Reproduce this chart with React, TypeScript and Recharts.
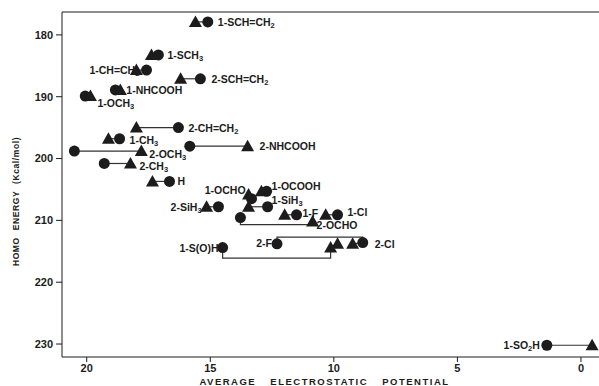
import React from "react";
import { ScatterChart, Scatter, XAxis, YAxis, ReferenceLine, Label } from "recharts";

// substituent names, "_n" marks a subscript digit
const compounds = [
  "1-SCH=CH_2", "1-SCH_3", "1-CH=CH_2", "2-SCH=CH_2", "1-NHCOOH", "1-OCH_3",
  "2-CH=CH_2", "1-CH_3", "2-NHCOOH", "2-OCH_3", "2-CH_3", "H", "2-SiH_3",
  "1-OCHO", "1-OCOOH", "1-SiH_3", "1-F", "1-Cl", "2-OCHO", "2-F", "2-Cl",
  "1-S(O)H", "1-SO_2H",
];
// filled circles
const circleX = [15.1, 17.1, 17.58, 15.4, 18.84, 20.06, 16.29, 18.67, 15.83, 20.5, 19.29, 16.65, 14.67, 13.33, 12.72, 12.68, 11.51, 9.85, 13.78, 12.3, 8.83, 14.5, 1.38];
const circleY = [177.9, 183.25, 185.7, 187.1, 188.9, 189.9, 195.0, 196.8, 198.0, 198.8, 200.8, 203.7, 207.8, 206.5, 205.3, 207.8, 209.1, 209.1, 209.55, 213.8, 213.6, 214.4, 230.2];
// filled triangles
const triX = [15.6, 17.38, 17.99, 16.2, 18.64, 19.85, 17.99, 19.12, 13.49, 17.79, 18.23, 17.34, 15.15, 13.45, 12.93, 13.45, 11.99, 10.33, 10.86, 9.85, 9.24, 10.13, -0.45];
const triY = [177.9, 183.25, 185.7, 187.1, 188.9, 189.9, 195.0, 196.8, 198.0, 198.8, 200.8, 203.7, 207.8, 205.8, 205.3, 207.8, 209.1, 209.1, 210.2, 213.8, 213.8, 214.4, 230.2];
// bent connectors (the others are straight circle-triangle lines)
const bent: Record<string, [number, number][]> = {
  "2-OCHO": [[13.78, 209.55], [13.78, 210.7], [10.86, 210.7], [10.86, 210.2]],
  "2-F": [[12.3, 213.8], [12.3, 212.7], [8.83, 212.7], [8.83, 213.6]],
  "1-S(O)H": [[14.5, 214.4], [14.5, 216.1], [10.13, 216.1], [10.13, 214.4]],
};
const xTicks = [0, 5, 10, 15, 20];
const yTicks = [180, 190, 200, 210, 220, 230];

// where each label sits relative to its marker
const labelLayout: Record<string, { at: "c" | "t"; dx: number; dy: number; end?: boolean }> = {
  "1-SCH=CH_2": { at: "c", dx: 10, dy: 0 },
  "1-SCH_3": { at: "c", dx: 9, dy: 0 },
  "1-CH=CH_2": { at: "t", dx: 3, dy: 0, end: true },
  "2-SCH=CH_2": { at: "c", dx: 11, dy: 0 },
  "1-NHCOOH": { at: "t", dx: 6, dy: 0 },
  "1-OCH_3": { at: "t", dx: 7, dy: 7 },
  "2-CH=CH_2": { at: "c", dx: 10, dy: 0 },
  "1-CH_3": { at: "c", dx: 10, dy: 1 },
  "2-NHCOOH": { at: "t", dx: 12, dy: 0 },
  "2-OCH_3": { at: "t", dx: 8, dy: 3 },
  "2-CH_3": { at: "t", dx: 9, dy: 3 },
  H: { at: "c", dx: 8, dy: 0 },
  "2-SiH_3": { at: "t", dx: -5, dy: 0, end: true },
  "1-OCHO": { at: "t", dx: -3, dy: -4, end: true },
  "1-OCOOH": { at: "c", dx: 5, dy: -5 },
  "1-SiH_3": { at: "c", dx: 4, dy: -7 },
  "1-F": { at: "c", dx: 6, dy: -2 },
  "1-Cl": { at: "c", dx: 10, dy: -3 },
  "2-OCHO": { at: "t", dx: 4, dy: 3 },
  "2-F": { at: "c", dx: -5, dy: -1, end: true },
  "2-Cl": { at: "c", dx: 12, dy: 1 },
  "1-S(O)H": { at: "c", dx: -4, dy: 0, end: true },
  "1-SO_2H": { at: "c", dx: -7, dy: 0, end: true },
};

const INK = "#1c1c1c";
const FONT = "'Liberation Sans', Arial, sans-serif";

const circles = compounds.map((name, i) => ({ name, x: circleX[i], y: circleY[i] }));
const triangles = compounds.map((name, i) => ({ name, x: triX[i], y: triY[i] }));
const connectors = compounds.map((name, i) =>
  bent[name]
    ? bent[name].map(([x, y]) => ({ x, y }))
    : [{ x: circleX[i], y: circleY[i] }, { x: triX[i], y: triY[i] }]
);
const labels = compounds.map((name, i) => {
  const l = labelLayout[name];
  return l.at === "c"
    ? { name, x: circleX[i], y: circleY[i] }
    : { name, x: triX[i], y: triY[i] };
});

function chem(name: string) {
  const parts = name.split(/_(\d)/);
  return parts.map((p, i) =>
    i % 2 === 1 ? (
      <tspan key={i} dy={3} fontSize={7.5}>{p}</tspan>
    ) : (
      <tspan key={i} dy={i > 0 ? -3 : 0}>{p}</tspan>
    )
  );
}

const Dot = (p: any) => <circle cx={p.cx} cy={p.cy} r={5.5} fill={INK} />;
const Tri = (p: any) => (
  <polygon
    points={`${p.cx},${p.cy - 6.5} ${p.cx - 6.5},${p.cy + 5} ${p.cx + 6.5},${p.cy + 5}`}
    fill={INK}
  />
);
const Name = (p: any) => {
  const l = labelLayout[p.payload.name];
  return (
    <text
      x={p.cx + l.dx}
      y={p.cy + l.dy}
      textAnchor={l.end ? "end" : "start"}
      dominantBaseline="central"
      fontFamily={FONT}
      fontWeight="bold"
      fontSize={10.5}
      fill={INK}
    >
      {chem(p.payload.name)}
    </text>
  );
};

const tickStyle = { fontSize: 11, fontWeight: "bold", fill: INK, fontFamily: FONT };

export default function App() {
  return (
    <div style={{ position: "absolute", left: 0, top: 0, background: "#fff" }}>
      <ScatterChart width={599} height={386} margin={{ top: 12, right: 0, bottom: 0, left: 0 }}>
        <XAxis
          type="number" dataKey="x" domain={[-0.73, 21.0]} reversed ticks={xTicks}
          allowDataOverflow height={29} tickSize={5} tickMargin={2}
          tick={tickStyle} stroke={INK}
        >
          <Label
            content={(p: any) => {
              const vb = p.viewBox;
              return (
                <text
                  x={vb.x + vb.width / 2 - 6} y={vb.y + 24} textAnchor="middle"
                  dominantBaseline="central" fontFamily={FONT} fontWeight="bold"
                  fontSize={9.5} letterSpacing={1.5} wordSpacing={10} fill={INK}
                >
                  AVERAGE ELECTROSTATIC POTENTIAL
                </text>
              );
            }}
          />
        </XAxis>
        <YAxis
          type="number" dataKey="y" domain={[176.3, 232.1]} reversed ticks={yTicks}
          allowDataOverflow width={62} tickSize={6} tickMargin={3}
          tick={tickStyle} stroke={INK}
        >
          <Label
            content={(p: any) => {
              const vb = p.viewBox;
              const cy = vb.y + vb.height / 2 + 17;
              return (
                <text
                  transform={`translate(${vb.x + 16},${cy}) rotate(-90)`}
                  textAnchor="middle" dominantBaseline="central" fontFamily={FONT}
                  fontWeight="bold" fontSize={8.5} letterSpacing={0.6} wordSpacing={4} fill={INK}
                >
                  HOMO ENERGY (Kcal/mol)
                </text>
              );
            }}
          />
        </YAxis>
        <ReferenceLine y={176.3} stroke={INK} strokeWidth={1} />
        {connectors.map((pts, i) => (
          <Scatter
            key={compounds[i]} data={pts} line={{ stroke: "#333", strokeWidth: 1.2 }}
            shape={() => <g />} isAnimationActive={false}
          />
        ))}
        <Scatter data={labels} shape={Name} isAnimationActive={false} />
        <Scatter data={circles} shape={Dot} isAnimationActive={false} />
        <Scatter data={triangles} shape={Tri} isAnimationActive={false} />
      </ScatterChart>
    </div>
  );
}
